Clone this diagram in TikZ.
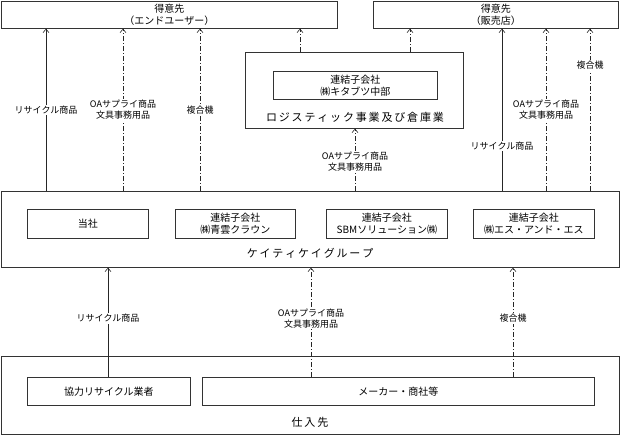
\documentclass[tikz,border=0pt]{standalone}
\usepackage{fontspec}
\setmainfont{Noto Sans CJK JP}
\usetikzlibrary{arrows.meta}
\tikzset{
  box/.style={draw=black!80, line width=0.7pt, anchor=north west, inner sep=0pt, align=center},
  conn/.style={line width=0.6pt, draw=black!85, -{Straight Barb[length=3.5pt,width=6pt]}},
  dd/.style={conn, dash pattern=on 5pt off 2pt on 1pt off 2pt},
  lab/.style={fill=white, inner sep=1pt, align=center, font=\fontsize{9}{11.5}\selectfont},
  btxt/.style={font=\fontsize{10}{12}\selectfont},
  gtxt/.style={font=\fontsize{11}{13}\selectfont, inner sep=0pt}
}
\begin{document}
\begin{tikzpicture}[x=1pt,y=-1pt]
\useasboundingbox (0,0) rectangle (621,435);
% top boxes
\node[box, btxt, minimum width=336pt, minimum height=27pt] (eu) at (1,1) {得意先\\（エンドユーザー）};
\node[box, btxt, minimum width=245pt, minimum height=27pt] (ds) at (373,1) {得意先\\（販売店）};
% logistics
\node[box, minimum width=218pt, minimum height=76pt] (logi) at (245,52) {};
\node[box, btxt, minimum width=164pt, minimum height=28pt] (kit) at (273,71) {連結子会社\\㈱キタブツ中部};
\node[gtxt] (logit) at (355,117) {ロ\,ジ\,ス\,テ\,ィ\,ッ\,ク\,事\,業\,及\,び\,倉\,庫\,業};
% group
\node[box, minimum width=618pt, minimum height=76pt] (grp) at (1,191) {};
\node[box, btxt, minimum width=121pt, minimum height=29pt] (toyo) at (27,209) {当社};
\node[box, btxt, minimum width=120pt, minimum height=29pt] (seiun) at (175,209) {連結子会社\\㈱青雲クラウン};
\node[box, btxt, minimum width=121pt, minimum height=29pt] (sbm) at (326,209) {連結子会社\\SBMソリューション㈱};
\node[box, btxt, minimum width=121pt, minimum height=29pt] (sas) at (473,209) {連結子会社\\㈱エス・アンド・エス};
\node[gtxt] (grpt) at (310,253) {ケ\,イ\,テ\,ィ\,ケ\,イ\,グ\,ル\,ー\,プ};
% suppliers
\node[box, minimum width=618pt, minimum height=78pt] (sup) at (1,356) {};
\node[box, btxt, minimum width=163pt, minimum height=28pt] (kyo) at (27,377) {協力リサイクル業者};
\node[box, btxt, minimum width=392pt, minimum height=28pt] (mak) at (202,377) {メーカー・商社等};
\node[gtxt] (supt) at (310,422) {仕\,入\,先};
% x positions
\coordinate (x1) at (46,0);
\coordinate (x2) at (123,0);
\coordinate (x3) at (200,0);
\coordinate (x4) at (300,0);
\coordinate (x5) at (410,0);
\coordinate (x6) at (502,0);
\coordinate (x7) at (546,0);
\coordinate (x8) at (590,0);
\coordinate (x9) at (355,0);
\coordinate (b1) at (108,0);
\coordinate (b2) at (311,0);
\coordinate (b3) at (513,0);
% arrows to end users
\draw[conn] (grp.north -| x1) -- node[lab, pos=0.5] {リサイクル商品} (eu.south -| x1);
\draw[dd] (grp.north -| x2) -- node[lab, pos=0.5] {OAサプライ商品\\文具事務用品} (eu.south -| x2);
\draw[dd] (grp.north -| x3) -- node[lab, pos=0.5] {複合機} (eu.south -| x3);
\draw[dd] (logi.north -| x4) -- (eu.south -| x4);
\draw[dd] (logi.north -| x5) -- (ds.south -| x5);
% arrows to dealers
\draw[conn] (grp.north -| x6) -- node[lab, pos=0.276] {リサイクル商品} (ds.south -| x6);
\draw[dd] (grp.north -| x7) -- node[lab, pos=0.5] {OAサプライ商品\\文具事務用品} (ds.south -| x7);
\draw[dd] (grp.north -| x8) -- node[lab, pos=0.773] {複合機} (ds.south -| x8);
% to logistics
\draw[dd] (grp.north -| x9) -- node[lab, pos=0.47] {OAサプライ商品\\文具事務用品} (logi.south -| x9);
% from suppliers
\draw[conn] (kyo.north -| b1) -- node[lab, pos=0.536] {リサイクル商品} (grp.south -| b1);
\draw[dd] (mak.north -| b2) -- node[lab, pos=0.536] {OAサプライ商品\\文具事務用品} (grp.south -| b2);
\draw[dd] (mak.north -| b3) -- node[lab, pos=0.536] {複合機} (grp.south -| b3);
\end{tikzpicture}
\end{document}
